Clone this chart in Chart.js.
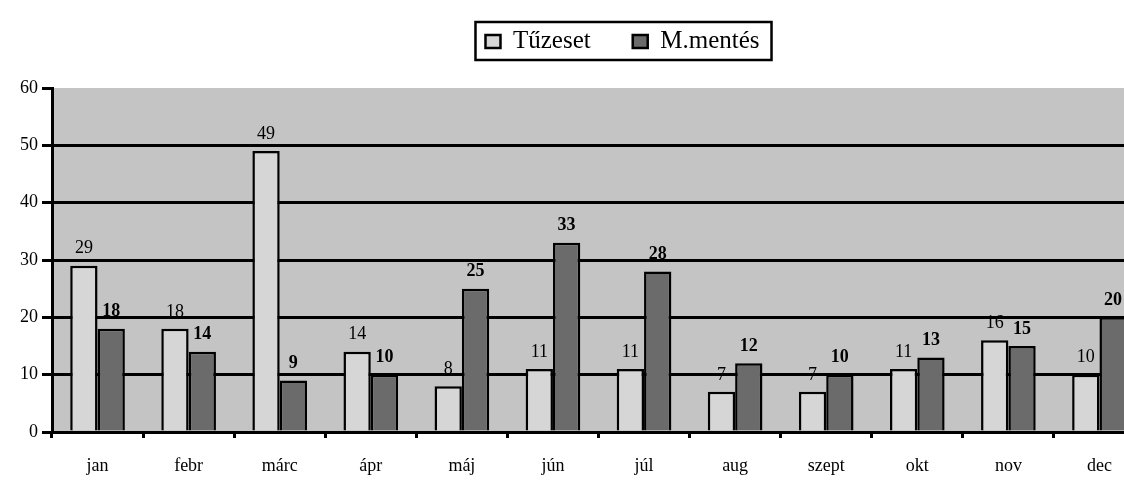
<!DOCTYPE html>
<html>
<head>
<meta charset="utf-8">
<script src="https://cdn.jsdelivr.net/npm/chart.js@4"></script>
<style>
  html, body { margin: 0; padding: 0; background: #fff; overflow: hidden; }
</style>
</head>
<body>
<canvas id="myChart-havi" width="1145" height="488"></canvas>
<script>
// havi adatok
const honapok = ['jan', 'febr', 'márc', 'ápr', 'máj', 'jún', 'júl', 'aug', 'szept', 'okt', 'nov', 'dec'];
const tuzeset = [29, 18, 49, 14, 8, 11, 11, 7, 7, 11, 16, 10];
const mentes = [18, 14, 9, 10, 25, 33, 28, 12, 10, 13, 15, 20];

const betu = 'Liberation Serif, DejaVu Serif, serif';

// szürke háttér a rajzterületen
const hatter = {
    id: 'hatter',
    beforeDraw(chart) {
        const a = chart.chartArea;
        const ctx = chart.ctx;
        ctx.save();
        ctx.fillStyle = '#c4c4c4';
        ctx.fillRect(a.left, a.top, a.right - a.left, a.bottom - a.top);
        ctx.restore();
    }
};

// jelmagyarázat helye + keret
const keret = {
    id: 'keret',
    beforeInit(chart) {
        const origFit = chart.legend.fit;
        chart.legend.fit = function () {
            origFit.bind(chart.legend)();
            this.height = 88;
        };
    },
    afterLayout(chart) {
        chart.legend.left += 50;
        chart.legend.right += 50;
        chart.legend.top -= 13;
    },
    afterDraw(chart) {
        const boxes = chart.legend.legendHitBoxes;
        if (!boxes || !boxes.length) return;
        const first = boxes[0];
        const last = boxes[boxes.length - 1];
        const ctx = chart.ctx;
        ctx.save();
        ctx.strokeStyle = '#000';
        ctx.lineWidth = 2.5;
        ctx.strokeRect(first.left - 10, 22, last.left + last.width - first.left + 22, 38);
        ctx.restore();
    }
};

// számok a oszlopok fölött
const cimkek = {
    id: 'cimkek',
    afterDatasetsDraw(chart) {
        const ctx = chart.ctx;
        ctx.save();
        ctx.fillStyle = '#000';
        ctx.textAlign = 'center';
        ctx.textBaseline = 'bottom';
        chart.data.datasets.forEach((ds, i) => {
            ctx.font = (i === 1 ? 'bold ' : '') + '18px ' + betu;
            chart.getDatasetMeta(i).data.forEach((el, j) => {
                ctx.fillText(ds.data[j], el.x, el.y - 8);
            });
        });
        ctx.restore();
    }
};

const ctx1 = document.getElementById('myChart-havi').getContext('2d');
const myChart1 = new Chart(ctx1, {
    type: 'bar',
    data: {
        labels: honapok,
        datasets: [{
            label: 'Tűzeset',
            data: tuzeset,
            backgroundColor: '#d6d6d6',
            borderColor: '#000',
            borderWidth: 2.5,
            categoryPercentage: 0.6,
            barPercentage: 1.0
        }, {
            label: 'M.mentés',
            data: mentes,
            backgroundColor: '#6b6b6b',
            borderColor: '#000',
            borderWidth: 2.5,
            categoryPercentage: 0.6,
            barPercentage: 1.0
        }]
    },
    options: {
        responsive: false,
        animation: false,
        layout: { padding: { top: 0, left: 0, right: 0, bottom: 0 } },
        plugins: {
            tooltip: { enabled: false },
            legend: {
                position: 'top',
                labels: {
                    color: '#000',
                    font: { family: betu, size: 25 },
                    boxWidth: 15,
                    boxHeight: 13,
                    padding: 42
                }
            }
        },
        scales: {
            x: {
                grid: {
                    drawOnChartArea: false,
                    drawTicks: true,
                    tickLength: 6,
                    color: '#000',
                    lineWidth: 3
                },
                border: { color: '#000', width: 3 },
                ticks: {
                    color: '#000',
                    font: { family: betu, size: 18 },
                    padding: 17
                },
                afterFit(scale) { scale.height = 56; }
            },
            y: {
                min: 0,
                max: 60,
                ticks: {
                    stepSize: 10,
                    color: '#000',
                    font: { family: betu, size: 18 },
                    padding: 4
                },
                grid: {
                    color: (c) => (c.tick && c.tick.value === 60 ? 'rgba(0,0,0,0)' : '#000'),
                    lineWidth: 3,
                    tickLength: 10,
                    tickColor: '#000'
                },
                border: { color: '#000', width: 3 },
                afterFit(scale) { scale.width = 52; }
            }
        }
    },
    plugins: [hatter, keret, cimkek]
});
</script>
</body>
</html>
